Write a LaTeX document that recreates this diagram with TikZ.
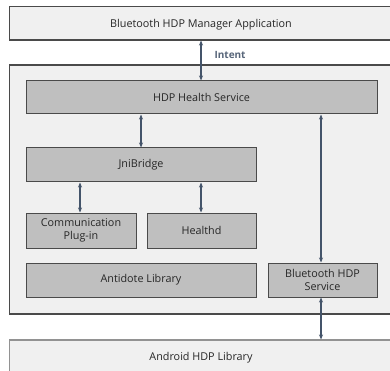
\documentclass[tikz,border=0pt]{standalone}
\usepackage{fontspec}
\setmainfont{Open Sans}
\usetikzlibrary{arrows.meta}
\definecolor{bgfill}{HTML}{F0F0F0}
\definecolor{boxfill}{HTML}{BFBFBF}
\definecolor{boxline}{HTML}{4A4A4A}
\definecolor{arr}{HTML}{44546A}
\tikzset{
  outerbox/.style={draw=boxline, line width=1.4pt, fill=bgfill},
  txt/.style={font=\fontsize{10.8}{13}\selectfont, text=black!85},
  innerbox/.style={draw=boxline, line width=1pt, fill=boxfill, txt, align=center},
  lbl/.style={txt, yshift=-1.5pt},
  conn/.style={draw=arr, line width=1.2pt, {Stealth[length=5pt,width=4pt]}-{Stealth[length=5pt,width=4pt]}}
}
\begin{document}
\begin{tikzpicture}[x=1pt,y=-1pt]
\useasboundingbox[fill=white] (0,0) rectangle (390,371);
\begin{scope}
\clip (0,0) rectangle (390,371);
% outer boxes
\draw[outerbox] (9.5,6.5) rectangle (400,40);
\node[lbl] (app) at (201,23) {Bluetooth HDP Manager Application};
\coordinate (appb) at (201,40.5);
\draw[outerbox] (9.5,65) rectangle (400,314);
\draw[outerbox, draw=boxline!60] (9.5,340) rectangle (400,380);
\node[lbl] (andr) at (201,356.5) {Android HDP Library};
\coordinate (andrt) at (321,339.5);
% inner boxes
\node[innerbox, minimum width=351pt, minimum height=33pt] (hs) at (201.5,97.5) {HDP Health Service};
\node[innerbox, minimum width=230pt, minimum height=34pt] (jni) at (141,165) {JniBridge};
\node[innerbox, minimum width=110pt, minimum height=35pt] (comm) at (81,230.5) {Communication\\Plug-in};
\node[innerbox, minimum width=109pt, minimum height=35pt] (hd) at (201.5,230.5) {Healthd};
\node[innerbox, minimum width=230pt, minimum height=34pt] (anti) at (141,280) {Antidote Library};
\node[innerbox, minimum width=109pt, minimum height=34pt] (bts) at (322.5,280) {Bluetooth HDP\\Service};
% connectors
\draw[conn] (appb) -- (hs.north -| appb);
\node[font=\bfseries\fontsize{10}{11}\selectfont, text=arr!90, anchor=west] (intent) at (211,55) {Intent};
\draw[conn] (hs.south -| 141,0) -- (jni.north -| 141,0);
\draw[conn] (hs.south -| 321,0) -- (bts.north -| 321,0);
\draw[conn] (jni.south -| 80,0) -- (comm.north -| 80,0);
\draw[conn] (jni.south -| 201,0) -- (hd.north -| 201,0);
\draw[conn] (bts.south -| andrt) -- (andrt);
\end{scope}
\end{tikzpicture}
\end{document}
